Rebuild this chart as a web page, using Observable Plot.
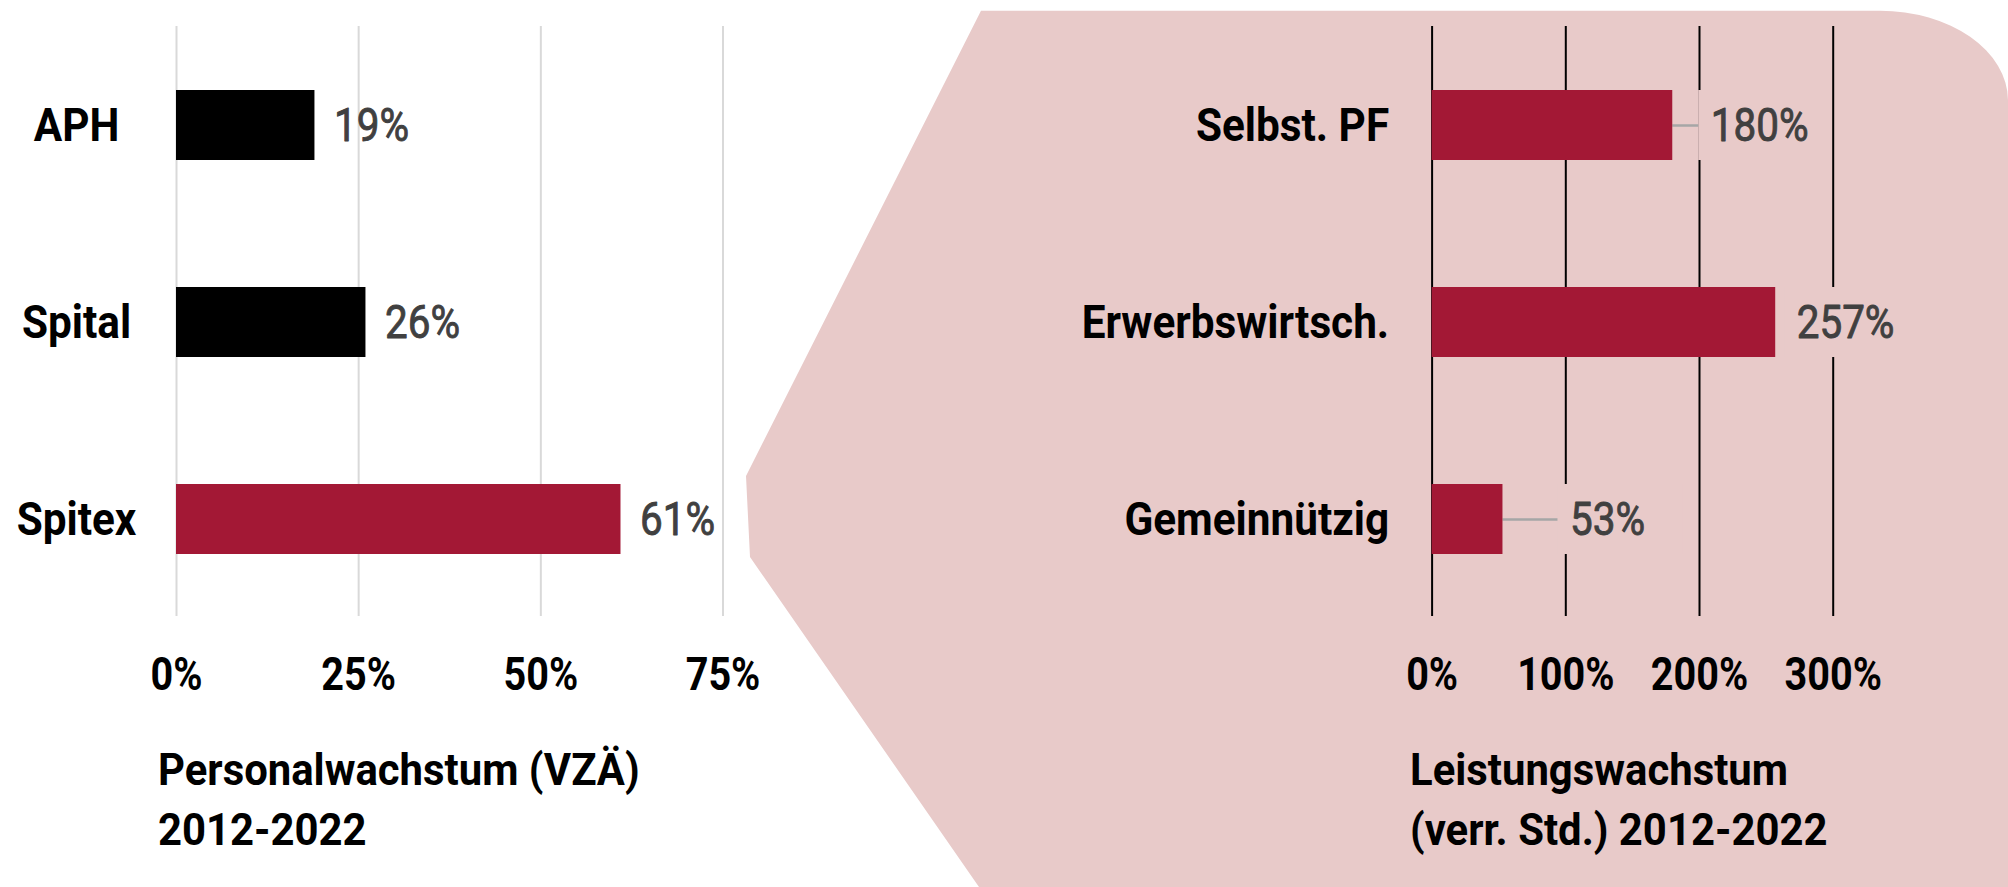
<!DOCTYPE html>
<html>
<head>
<meta charset="utf-8">
<script src="https://cdn.jsdelivr.net/npm/d3@7"></script>
<script src="https://cdn.jsdelivr.net/npm/@observablehq/plot@0.6"></script>
<style>
  html, body { margin: 0; padding: 0; background: #ffffff; }
  #wrap { position: relative; width: 2008px; height: 887px; overflow: hidden; }
  #bg { position: absolute; left: 0; top: 0; }
  .chart { position: absolute; top: 0; }
  .cap {
    position: absolute; top: 740px;
    font-family: Roboto, "Noto Sans", sans-serif;
    font-weight: bold; font-size: 45px; line-height: 60px; color: #000;
    white-space: pre;
    transform: scaleX(0.93); transform-origin: left top;
  }
</style>
</head>
<body>
<div id="wrap">
  <svg id="bg" width="2008" height="887"></svg>
  <div id="c1" class="chart" style="left:0px"></div>
  <div id="c2" class="chart" style="left:760px"></div>
  <div class="cap" style="left:158px">Personalwachstum (VZÄ)
2012-2022</div>
  <div class="cap" style="left:1410px">Leistungswachstum
(verr. Std.) 2012-2022</div>
</div>
<script>
// ---- data ----
const staffCategories = ["APH", "Spital", "Spitex"];
const staffGrowth = [19, 26, 61];
const staffTicks = [0, 25, 50, 75];

const serviceCategories = ["Selbst. PF", "Erwerbswirtsch.", "Gemeinnützig"];
const serviceGrowth = [180, 257, 53];
const serviceTicks = [0, 100, 200, 300];

// ---- style ----
const FONT = 'Roboto, "Noto Sans", sans-serif';
const CONDENSE = 0.86;
const CONDENSE_CAT = 0.9;
const CRIMSON = "#a31835";
const PINK = "#e8cac9";
const VALUE_GRAY = "#404040";
const staffColors = {"APH": "#000000", "Spital": "#000000", "Spitex": CRIMSON};
// label offsets (px from bar end to text start), as placed in the original
const serviceLabelGap = {"Selbst. PF": 38, "Erwerbswirtsch.": 21, "Gemeinnützig": 67};
const BOX_PAD = 12, BOX_W = 125;

// background shape (decoration)
d3.select("#bg").append("path")
  .attr("d", "M981,10.7 L1880,10.7 A128,90 0 0 1 2008,100 L2008,887 L979,887 L750,557 L746,476 Z")
  .attr("fill", PINK);

const staff = staffCategories.map((c, i) => ({cat: c, value: staffGrowth[i]}));
const service = serviceCategories.map((c, i) => ({cat: c, value: serviceGrowth[i]}));

const baseStyle = {fontFamily: FONT, background: "transparent", overflow: "visible"};

function condense(svg) {
  svg.querySelectorAll("text").forEach(t => {
    const isCat = t.closest('g[aria-label="y-axis tick label"]') !== null;
    const f = isCat ? CONDENSE_CAT : CONDENSE;
    const w = t.getComputedTextLength();
    if (w > 0) {
      t.setAttribute("textLength", (w * f).toFixed(2));
      t.setAttribute("lengthAdjust", "spacingAndGlyphs");
    }
  });
}

const valueStyle = {fill: VALUE_GRAY, stroke: VALUE_GRAY, strokeWidth: 0.9, fontSize: 47, fontWeight: "normal"};

const chart1 = Plot.plot({
  width: 760, height: 740,
  marginTop: 26, marginBottom: 124, marginLeft: 176, marginRight: 38,
  style: baseStyle,
  x: {domain: [0, 75], range: [176, 722.5]},
  y: {domain: staffCategories, range: [90, 554], paddingInner: 0.645, paddingOuter: 0},
  marks: [
    Plot.ruleX(staffTicks, {stroke: "#d9d9d9", strokeWidth: 2}),
    Plot.barX(staff, {x: "value", y: "cat", fill: d => staffColors[d.cat]}),
    Plot.text(staff, {x: "value", y: "cat", text: d => d.value + "%", textAnchor: "start", dx: 19, ...valueStyle}),
    Plot.axisX({ticks: staffTicks, tickFormat: d => d + "%", tickSize: 0, tickPadding: 41,
      fontSize: 46, fontWeight: "bold", fill: "#000", label: null}),
    Plot.axisY({tickSize: 0, tickPadding: 100, textAnchor: "middle",
      fontSize: 47, fontWeight: "bold", fill: "#000", label: null})
  ]
});
document.getElementById("c1").appendChild(chart1);
condense(chart1);

const OFF = 760;
const chart2 = Plot.plot({
  width: 1248, height: 740,
  marginTop: 26, marginBottom: 124, marginLeft: 671.6, marginRight: 100,
  style: baseStyle,
  x: {domain: [0, 300], range: [1431.6 - OFF, 1832.7 - OFF]},
  y: {domain: serviceCategories, range: [90, 554], paddingInner: 0.645, paddingOuter: 0},
  marks: [
    Plot.ruleX(serviceTicks, {stroke: "#000", strokeWidth: 2}),
    // label boxes (background colour) hide the gridlines behind the value labels
    ...service.map(d => Plot.barX([d], {x1: "value", x2: "value", y: "cat", fill: PINK,
      insetLeft: serviceLabelGap[d.cat] - BOX_PAD,
      insetRight: -(serviceLabelGap[d.cat] - BOX_PAD + BOX_W)})),
    // leader lines for labels moved away from the bar end
    ...service.filter(d => serviceLabelGap[d.cat] > 30).map(d =>
      Plot.ruleY([d], {y: "cat", x1: "value", x2: "value",
        insetRight: -(serviceLabelGap[d.cat] - BOX_PAD), stroke: "#a6a6a6", strokeWidth: 2.5})),
    Plot.barX(service, {x: "value", y: "cat", fill: CRIMSON}),
    ...service.map(d => Plot.text([d], {x: "value", y: "cat", text: v => v.value + "%",
      textAnchor: "start", dx: serviceLabelGap[d.cat], ...valueStyle})),
    Plot.axisX({ticks: serviceTicks, tickFormat: d => d + "%", tickSize: 0, tickPadding: 41,
      fontSize: 46, fontWeight: "bold", fill: "#000", label: null}),
    Plot.axisY({tickSize: 0, tickPadding: 43, textAnchor: "end",
      fontSize: 47, fontWeight: "bold", fill: "#000", label: null})
  ]
});
document.getElementById("c2").appendChild(chart2);
condense(chart2);
</script>
</body>
</html>
